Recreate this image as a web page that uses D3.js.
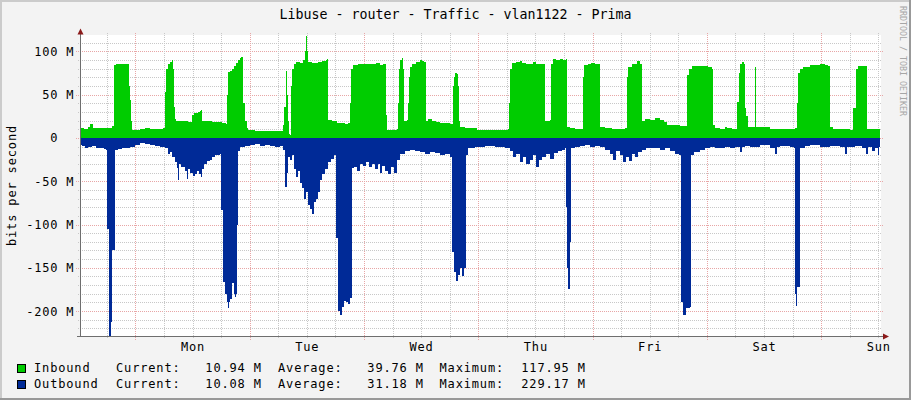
<!DOCTYPE html>
<html><head><meta charset="utf-8">
<script src="https://cdn.jsdelivr.net/npm/d3@7/dist/d3.min.js"></script>
<style>
body{margin:0;background:#f3f3f3;}
svg text{font-family:"DejaVu Sans Mono",monospace;fill:#000;white-space:pre;}
</style>
</head><body>
<svg id="chart" width="911" height="400"></svg>
<script>
// ---------------- data ----------------
const title = "Libuse - router - Traffic - vlan1122 - Prima";
const yAxisTitle = "bits per second";
const watermark = "RRDTOOL / TOBI OETIKER";
const yTickValues = [-200, -150, -100, -50, 0, 50, 100];           // in M (bits/s)
const yTickLabels = ["-200 M", "-150 M", "-100 M", "-50 M", "0  ", "50 M", "100 M"];
const dayLabels = ["Mon", "Tue", "Wed", "Thu", "Fri", "Sat", "Sun"];
const seriesNames = ["Inbound", "Outbound"];
const seriesColors = ["#00cc00", "#002a97"];
const legendCurrent = ["10.94 M", "10.08 M"];
const legendAverage = ["39.76 M", "31.18 M"];
const legendMaximum = ["117.95 M", "229.17 M"];

// hours since the start of the window (Sun ~12:21), values in M bits/s
const inboundHours = [0,0.84,1.68,2.1,2.73,3.57,4.83,5.88,6.72,7.14,7.56,8.82,9.66,10.29,10.5,10.71,10.92,12.6,13.65,14.7,16.38,17.43,17.85,18.06,18.48,18.9,19.32,19.53,19.74,19.95,20.16,21.42,22.68,23.52,23.94,24.78,25.2,25.41,25.62,26.46,27.72,28.98,29.82,30.66,30.87,31.08,31.5,31.92,32.34,32.76,33.18,33.6,33.81,34.23,34.65,35.07,35.28,36.75,38.85,40.95,42.42,42.63,42.84,43.26,43.47,43.68,43.89,44.1,44.31,44.52,44.94,45.36,46.2,46.83,47.25,47.46,47.67,47.88,48.72,49.98,50.82,51.66,51.87,52.08,52.92,53.97,55.65,56.28,56.7,56.91,57.33,58.38,59.22,60.48,61.32,62.16,63,63.63,64.26,64.47,65.52,66.57,66.78,66.99,67.2,67.62,67.83,68.04,68.67,68.88,69.09,69.3,69.72,70.56,71.4,71.82,72.24,72.66,73.08,73.92,74.76,75.6,76.86,77.7,78.12,78.33,78.54,78.75,79.17,79.38,79.59,79.8,80.85,81.9,83.37,85.05,87.15,88.83,89.88,90.09,90.3,90.72,91.56,92.4,92.82,93.66,94.5,95.13,95.76,96.6,97.23,97.65,98.7,98.91,99.33,99.96,100.8,101.43,102.06,102.27,102.9,103.95,105.42,105.63,105.84,106.68,107.31,108.15,108.78,109.2,110.25,111.72,112.98,114.45,114.87,115.08,115.92,116.97,117.6,118.02,118.65,119.7,120.75,121.8,122.64,123.27,124.95,126,127.47,127.89,128.52,129.57,130.83,131.88,132.72,132.93,133.35,134.4,135.45,135.87,136.92,137.97,138.39,138.6,139.02,139.44,139.65,139.86,140.28,141.75,141.96,142.8,143.85,144.9,147,149.1,150.15,150.57,150.78,151.2,151.83,153.3,154.35,155.4,156.45,157.08,157.5,158.13,159.6,160.65,161.7,162.33,162.96,163.38,164.22,164.85,165.27,166.95,168];
const inboundValues = [12,10,13,16,12,11,11.5,12,14,84,86,85.5,86,60,44,20,9.5,10,11,10,10.5,11,53,80,86,88,90,80,36,22,20,19.5,19,27,28.5,29.5,31,32.5,20,19.5,18.5,18,17,16.5,50,76,77,80,83,87,90,92,94,40,20,12,9,8.5,8.5,8.5,8,15,36,77,50,20,5,3,60,80,85,88,87,90,100,117.95,100,88,87,88,89,90,91,21,20,17,16.5,17,40,80,84,86,85,86,85,87,84,85,26,9,9,10,40,80,90,92,80,20,21,40,70,82,86,88,90,89,88,20,22,20,19,17,17.5,16,16,60,70,75,74,60,20,13,12,11,9.5,9.5,9,9,10,40,80,87,88,89,87,86,86,88,86,86,85,20,21,85,91,90,91,90,91,13,11,10,10.5,70,84,85,87,85,85,13,11,10,10,11,70,82,85,89,86,20,22,21,23,21,18,15,15,14,73,80,83,83.5,83,82,80,15,11,10,13,11,10,42,75,85,88,86,35,25,13,82,13,13,13,10,10,10,12,40,75,80,82,84,84,85,84,83,13,10,10,10,9,35,80,83,83.5,83,10,10.5,10.94];

const outboundHours = [0,0.42,1.05,1.68,2.52,3.36,4.2,5.04,5.46,5.67,6.09,6.3,6.51,6.72,7.35,7.98,8.82,9.66,10.5,11.55,12.6,13.65,14.7,15.75,16.8,17.85,18.48,18.9,19.32,19.95,20.37,20.58,20.79,21.21,21.63,22.05,22.47,22.68,23.1,23.73,24.15,24.57,24.99,25.41,25.62,26.04,26.67,27.3,27.72,28.35,28.98,29.4,29.61,30.03,30.45,30.87,31.08,31.29,31.5,31.92,32.34,32.55,32.76,32.97,33.18,33.6,34.65,35.7,36.75,37.8,38.85,39.9,40.95,42,42.63,43.05,43.47,43.68,44.1,44.52,44.94,45.36,45.78,46.2,46.62,47.04,47.46,47.88,48.3,48.72,49.14,49.56,49.98,50.4,50.82,51.45,52.08,52.71,53.34,53.76,54.18,54.6,55.02,55.44,55.86,56.28,56.7,57.12,57.54,58.17,58.8,59.43,60.06,60.69,61.32,61.95,62.58,63,63.42,64.05,64.68,65.31,65.94,66.57,67.2,68.25,69.3,70.35,71.4,72.45,73.5,74.55,75.6,76.65,77.7,78.12,78.54,78.96,79.38,79.8,80.22,80.64,81.06,81.48,82.95,85.05,87.15,89.25,90.3,90.93,91.56,92.4,93.03,93.66,94.5,95.13,95.76,96.39,97.02,97.86,98.7,99.54,100.38,101.22,101.85,102.06,102.27,102.48,102.9,103.11,103.95,105,106.05,107.1,108.15,109.2,110.25,111.3,111.93,112.56,113.4,114.03,114.66,115.29,115.92,116.55,117.18,118.02,118.86,119.7,120.75,121.8,122.85,123.9,124.95,125.79,126.21,126.63,127.26,127.68,128.1,128.31,128.94,130.2,131.25,132.3,133.35,134.4,135.45,136.5,137.55,138.6,139.02,139.65,140.7,142.8,144.9,145.95,146.37,147,149.1,149.94,150.15,150.36,150.57,151.2,152.25,153.3,155.4,157.5,159.6,160.65,161.07,162.75,164.22,165.06,165.48,166.32,166.95,167.58,167.79,168];
const outboundValues = [8,9,12,10,9,11,12,13,14,105,229.17,229,213,130,14,13,12,11,10,8,6,7,8,9,10,12,18,16,22,28,35,49,30,34,33,38,47,36,40,44,42,38,42,45,36,30,27,25,22,20,20,18,83,166,180,190,196,190,186,168,180,184,180,100,15,10,9,8,7,9,8,9,10,9,14,57,40,22,26,20,36,45,38,52,58,70,62,78,82,88,74,70,62,48,42,36,28,24,20,115,200,205,195,188,190,192,185,35,33,38,30,32,28,34,30,36,30,40,32,38,42,34,40,25,18,15,14,15,16,18,16,17,20,18,22,132,155,165,158,150,160,150,20,12,10,9,10,11,15,22,18,28,22,30,25,20,34,26,22,18,24,17,15,14,12,80,150,175,120,12,10,9,8,10,9,10,14,18,25,15,20,28,22,27,18,22,16,14,12,11,12,14,12,15,18,20,190,205,197,196,195,20,16,14,12,10,12,11,10,12,10,16,10,9,10,8,12,18,10,9,10,12,180,194,172,12,9,8,10,9,10,18,10,9,12,18,10,15,12,20,10,10.08];

// ---------------- chart ----------------
const W = 911, H = 400;
const plot = {left: 80, right: 880, top: 35, bottom: 336};
const startMs = Date.UTC(2023, 0, 1, 12, 21);   // Sunday
const endMs = startMs + 7 * 24 * 3600e3;
const hourMs = 3600e3;

const svg = d3.select("#chart");
svg.append("rect").attr("width", W).attr("height", H).attr("fill", "#f3f3f3");
// shading border
svg.append("rect").attr("x", 0).attr("y", 0).attr("width", W).attr("height", 2).attr("fill", "#cbcbcb");
svg.append("rect").attr("x", 0).attr("y", 0).attr("width", 2).attr("height", H).attr("fill", "#cbcbcb");
svg.append("rect").attr("x", 0).attr("y", H - 2).attr("width", W).attr("height", 2).attr("fill", "#999999");
svg.append("rect").attr("x", W - 2).attr("y", 0).attr("width", 2).attr("height", H).attr("fill", "#999999");

const x = d3.scaleUtc().domain([new Date(startMs), new Date(endMs)]).range([plot.left, plot.right]);
const y = d3.scaleLinear().domain([-228.8, 119.0]).range([plot.bottom, plot.top]);

svg.append("rect").attr("x", plot.left).attr("y", plot.top)
  .attr("width", plot.right - plot.left + 1).attr("height", plot.bottom - plot.top).attr("fill", "#ffffff");

const grid = svg.append("g").attr("shape-rendering", "crispEdges");
const minorCol = "#c8c8c8", majorCol = "#e8a6a6";
// horizontal grid
d3.range(-220, 120, 10).forEach(v => {
  const major = v % 50 === 0;
  const yy = Math.round(y(v)) + 0.5;
  grid.append("line").attr("x1", major ? 76 : 78).attr("x2", major ? 884 : 882)
    .attr("y1", yy).attr("y2", yy)
    .attr("stroke", major ? majorCol : minorCol).attr("stroke-dasharray", "1,1");
});
// vertical grid: every 6 hours, major at midnight
d3.utcHour.every(6).range(new Date(startMs), new Date(endMs)).forEach(t => {
  const major = t.getUTCHours() === 0;
  const xx = Math.round(x(t)) + 0.5;
  grid.append("line").attr("x1", xx).attr("x2", xx)
    .attr("y1", 33).attr("y2", major ? 340 : 338)
    .attr("stroke", major ? majorCol : minorCol).attr("stroke-dasharray", "1,1");
});

// areas
const toPts = (hs, vs, sign) => hs.map((h, i) => ({t: new Date(startMs + h * hourMs), v: sign * vs[i]}));
const area = d3.area().x(d => x(d.t)).y0(y(0)).y1(d => y(d.v)).curve(d3.curveStepAfter);
svg.append("path").datum(toPts(inboundHours, inboundValues, 1)).attr("d", area)
  .attr("fill", seriesColors[0]).attr("shape-rendering", "crispEdges");
svg.append("path").datum(toPts(outboundHours, outboundValues, -1)).attr("d", area)
  .attr("fill", seriesColors[1]).attr("shape-rendering", "crispEdges");

// axes
const axisCol = "#6e6e6e", arrowCol = "#8b1a1a";
svg.append("line").attr("x1", 80.5).attr("x2", 80.5).attr("y1", 337).attr("y2", 31)
  .attr("stroke", axisCol).attr("shape-rendering", "crispEdges");
svg.append("line").attr("x1", 77).attr("x2", 884).attr("y1", 336.5).attr("y2", 336.5)
  .attr("stroke", axisCol).attr("shape-rendering", "crispEdges");
svg.append("path").attr("d", "M77.5,34.5 L83.5,34.5 L80.5,28.5 Z").attr("fill", arrowCol);
svg.append("path").attr("d", "M883,333.5 L883,339.5 L889,336.5 Z").attr("fill", arrowCol);

// y labels
const axisFont = {size: 12, ls: 0.8};
yTickValues.forEach((v, i) => {
  svg.append("text").attr("x", 73.5 + axisFont.ls).attr("y", y(v) + 4.5)
    .attr("text-anchor", "end").attr("font-size", axisFont.size).attr("letter-spacing", axisFont.ls)
    .text(yTickLabels[i]);
});
// x labels at noon
const noons = d3.utcDay.range(new Date(startMs), new Date(endMs)).map(d => new Date(+d + 12 * hourMs))
  .filter(d => +d <= endMs);
noons.forEach((d, i) => {
  svg.append("text").attr("x", x(d) + axisFont.ls / 2).attr("y", 350.5)
    .attr("text-anchor", "middle").attr("font-size", axisFont.size).attr("letter-spacing", axisFont.ls)
    .text(dayLabels[i]);
});

// title
svg.append("text").attr("x", W / 2).attr("y", 19).attr("text-anchor", "middle")
  .attr("font-size", 13.3).text(title);
// y axis title
svg.append("text").attr("transform", "translate(15.5,185.5) rotate(-90)").attr("text-anchor", "middle")
  .attr("font-size", 12).attr("letter-spacing", 0.85).text(yAxisTitle);
// watermark
svg.append("text").attr("transform", "translate(900,6) rotate(90)").attr("font-size", 8.3)
  .style("fill", "#a6a6a6").text(watermark);

// legend
const lg = {size: 12, ls: 0.85};
[372, 388].forEach((base, i) => {
  svg.append("rect").attr("x", 17.5).attr("y", base - 7.5).attr("width", 8).attr("height", 8)
    .attr("fill", seriesColors[i]).attr("stroke", "#000").attr("stroke-width", 1);
  const t = (xx, txt, anchor) => svg.append("text").attr("x", xx).attr("y", base)
    .attr("font-size", lg.size).attr("letter-spacing", lg.ls).attr("text-anchor", anchor || "start").text(txt);
  t(34, seriesNames[i]);
  t(116, "Current:");
  t(261 + lg.ls, legendCurrent[i], "end");
  t(278, "Average:");
  t(423 + lg.ls, legendAverage[i], "end");
  t(439.5, "Maximum:");
  t(585 + lg.ls, legendMaximum[i], "end");
});
</script>
</body></html>
